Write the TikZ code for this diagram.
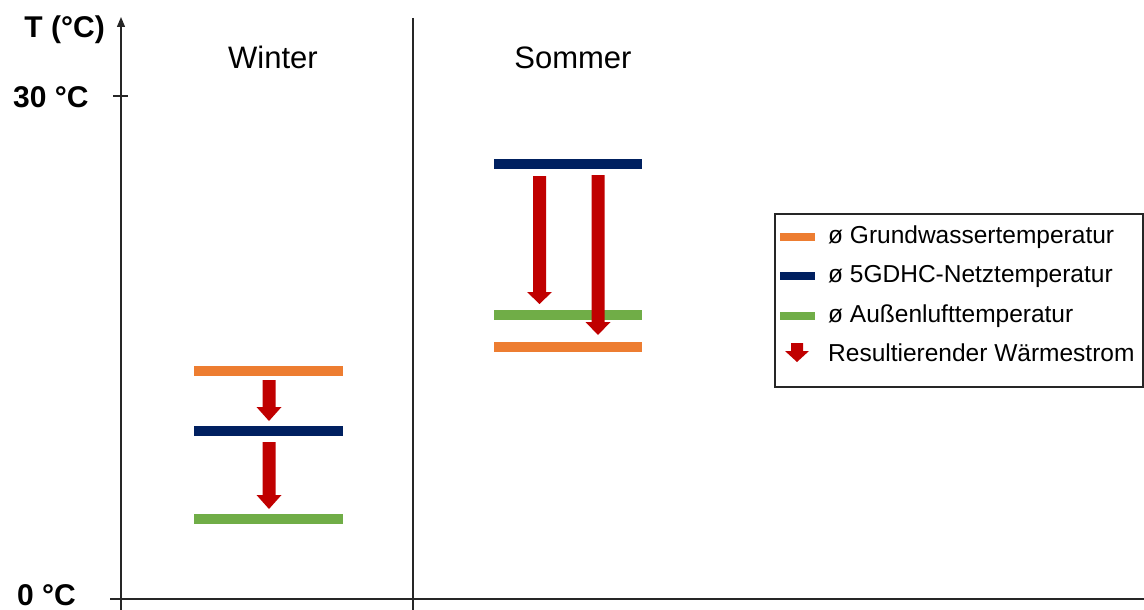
\documentclass[tikz,border=0pt]{standalone}
\usepackage{fontspec}
\setmainfont{Liberation Sans}
\usetikzlibrary{arrows.meta}
\definecolor{gworange}{HTML}{ED7D31}
\definecolor{netblue}{HTML}{002060}
\definecolor{airgreen}{HTML}{70AD47}
\definecolor{heatred}{HTML}{C00000}
\definecolor{axisgray}{HTML}{262626}
\newcommand{\heatarrow}[4]{% x, top, headstart, tip
  \fill[heatred] (#1-6.5,#2) -- (#1+6.5,#2) -- (#1+6.5,#3) -- (#1+12.5,#3) -- (#1,#4) -- (#1-12.5,#3) -- (#1-6.5,#3) -- cycle;}
\begin{document}
\begin{tikzpicture}[x=1pt,y=-1pt,
  axis/.style={draw=axisgray,line width=1.3pt},
  tempbar/.style={line width=10pt},
  swatch/.style={line width=8pt},
  big/.style={font=\fontsize{31}{37}\selectfont},
  bigbold/.style={font=\fontsize{30}{36}\selectfont\bfseries},
  legtext/.style={font=\fontsize{24.5}{29}\selectfont,anchor=base west,inner sep=0pt}]
\useasboundingbox (0,0) rectangle (1144,610);
% axes
\coordinate (ybot) at (121,610);
\coordinate (ytop) at (121,17);
\draw[axis,-{Triangle[length=10pt,width=8pt]}] (ybot) -- (ytop);
\coordinate (t30a) at (113,96);
\coordinate (t30b) at (128,96);
\draw[axis] (t30a) -- (t30b);
\coordinate (xl) at (110,599);
\coordinate (xr) at (1144,599);
\draw[axis] (xl) -- (xr);
\coordinate (dtop) at (413,18);
\coordinate (dbot) at (413,610);
\draw[axis] (dtop) -- (dbot);
% axis labels
\node[bigbold,anchor=base east,inner sep=0pt] (tlabel) at (105,38) {T (°C)};
\node[bigbold,anchor=base west,inner sep=0pt] (l30) at (13,107) {30 °C};
\node[bigbold,anchor=base west,inner sep=0pt] (l0) at (17,605) {0 °C};
\node[big,anchor=base,inner sep=0pt] (winter) at (273,69) {Winter};
\node[big,anchor=base,inner sep=0pt] (sommer) at (573,69) {Sommer};
% winter bars
\draw[tempbar,gworange] (194,371) -- (343,371);
\draw[tempbar,netblue] (194,431) -- (343,431);
\draw[tempbar,airgreen] (194,519) -- (343,519);
\heatarrow{269}{380}{407}{421}
\heatarrow{269}{442}{495}{509}
% summer bars
\draw[tempbar,netblue] (494,164) -- (642,164);
\draw[tempbar,airgreen] (494,315) -- (642,315);
\draw[tempbar,gworange] (494,347) -- (642,347);
\heatarrow{539.5}{176}{292}{304}
\heatarrow{598}{175}{322}{335}
% legend
\draw[draw=axisgray,line width=1.2pt] (775,214) rectangle (1143,387);
\draw[swatch,gworange] (780,237) -- (815,237);
\draw[swatch,netblue] (780,276) -- (815,276);
\draw[swatch,airgreen] (780,316) -- (815,316);
\fill[heatred] (791,343) -- (803,343) -- (803,351) -- (809,351) -- (797,362) -- (785,351) -- (791,351) -- cycle;
\node[legtext] (lg1) at (828,243) {ø Grundwassertemperatur};
\node[legtext] (lg2) at (828,282) {ø 5GDHC-Netztemperatur};
\node[legtext] (lg3) at (828,322) {ø Außenlufttemperatur};
\node[legtext] (lg4) at (828,361) {Resultierender Wärmestrom};
\end{tikzpicture}
\end{document}
